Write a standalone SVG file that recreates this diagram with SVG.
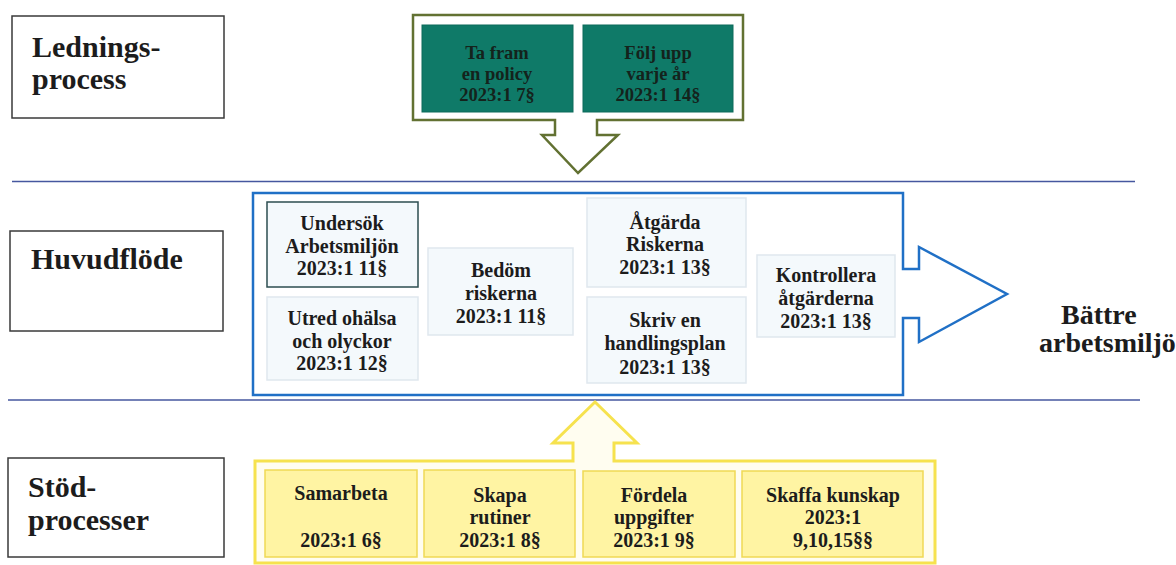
<svg xmlns="http://www.w3.org/2000/svg" width="1176" height="565" viewBox="0 0 1176 565" font-family="'Liberation Serif', 'Times New Roman', serif">
<style>
text{font-family:'Liberation Serif','Times New Roman',serif;font-weight:bold;fill:#1c1c1c}
.lbl{font-size:30px}
.t{font-size:20px;text-anchor:middle}
.tt{font-size:18.5px;text-anchor:middle;fill:#14231c}
.lane{fill:#fff;stroke:#3a3a3a;stroke-width:1.5}
.mb{fill:#f4f9fc;stroke:#dfe7ee;stroke-width:1.5}
.yb{fill:#fff4a3;stroke:#f0d955;stroke-width:1.5}
.gb{fill:#0f7a68;stroke:#0c6a5a;stroke-width:1}
.sep{stroke:#46579f;stroke-width:1.5;fill:none}
</style>
<g id="separators">
<line class="sep" x1="12" y1="181.5" x2="1135" y2="181.5"/>
<line class="sep" x1="8" y1="400" x2="1140" y2="400"/>
</g>
<g id="lane-ledning">
<rect class="lane" x="12" y="16" width="212" height="102"/>
<text class="lbl" font-family="Liberation Serif" x="32" y="57">Lednings-</text>
<text class="lbl" font-family="Liberation Serif" x="32" y="89">process</text>
</g>
<g id="lane-huvud">
<rect class="lane" x="10" y="231" width="213" height="100"/>
<text class="lbl" font-family="Liberation Serif" x="31" y="269">Huvudflöde</text>
</g>
<g id="lane-stod">
<rect class="lane" x="8" y="458" width="216" height="99"/>
<text class="lbl" font-family="Liberation Serif" x="28" y="497">Stöd-</text>
<text class="lbl" font-family="Liberation Serif" x="28" y="530">processer</text>
</g>
<g id="connectors">
<path id="arrow-ledning" d="M413,15 H743 V120 H597 V135 H618 L578,173 L542,135 H555 V120 H413 Z" fill="#fff" stroke="#627132" stroke-width="2.5"/>
<path id="arrow-huvud" d="M253,193 H903 V269 H919 V247 L1007,294 L919,342 V318 H903 V395 H253 Z" fill="#fff" stroke="#2070c6" stroke-width="2.5"/>
<path id="arrow-stod" d="M255,461 H573 V443 H553 L595,402 L637,443 H614 V461 H935 V563 H255 Z" fill="#fffdf0" stroke="#f6e24e" stroke-width="3"/>
</g>
<g id="n-policy" font-family="Liberation Serif">
<rect class="gb" x="422" y="25" width="151" height="87"/>
<text class="tt" x="497" y="59">Ta fram</text>
<text class="tt" x="497" y="80">en policy</text>
<text class="tt" x="497" y="101">2023:1 7§</text>
</g>
<g id="n-folj" font-family="Liberation Serif">
<rect class="gb" x="583" y="25" width="150" height="87"/>
<text class="tt" x="658" y="59">Följ upp</text>
<text class="tt" x="658" y="80">varje år</text>
<text class="tt" x="658" y="101">2023:1 14§</text>
</g>
<g id="n-undersok" font-family="Liberation Serif">
<rect x="267" y="202" width="151" height="85" fill="#f4f9fc" stroke="#2d4d50" stroke-width="1.5"/>
<text class="t" x="342" y="230">Undersök</text>
<text class="t" x="342" y="253">Arbetsmiljön</text>
<text class="t" x="342" y="275">2023:1 11§</text>
</g>
<g id="n-utred" font-family="Liberation Serif">
<rect class="mb" x="267" y="297" width="151" height="83"/>
<text class="t" x="342" y="325">Utred ohälsa</text>
<text class="t" x="342" y="348">och olyckor</text>
<text class="t" x="342" y="370">2023:1 12§</text>
</g>
<g id="n-bedom" font-family="Liberation Serif">
<rect class="mb" x="428" y="248" width="145" height="87"/>
<text class="t" x="501" y="277">Bedöm</text>
<text class="t" x="501" y="300">riskerna</text>
<text class="t" x="501" y="323">2023:1 11§</text>
</g>
<g id="n-atgarda" font-family="Liberation Serif">
<rect class="mb" x="587" y="198" width="159" height="89"/>
<text class="t" x="665" y="229">Åtgärda</text>
<text class="t" x="665" y="251">Riskerna</text>
<text class="t" x="665" y="274">2023:1 13§</text>
</g>
<g id="n-skriv" font-family="Liberation Serif">
<rect class="mb" x="587" y="297" width="159" height="86"/>
<text class="t" x="665" y="327">Skriv en</text>
<text class="t" x="665" y="350">handlingsplan</text>
<text class="t" x="665" y="374">2023:1 13§</text>
</g>
<g id="n-kontrollera" font-family="Liberation Serif">
<rect class="mb" x="757" y="255" width="138" height="82"/>
<text class="t" x="826" y="282">Kontrollera</text>
<text class="t" x="826" y="305">åtgärderna</text>
<text class="t" x="826" y="328">2023:1 13§</text>
</g>
<g id="n-battre" font-family="Liberation Serif">
<text style="font-size:28px" x="1061" y="324">Bättre</text>
<text style="font-size:28px" x="1039" y="352">arbetsmiljö</text>
</g>
<g id="n-samarbeta" font-family="Liberation Serif">
<rect class="yb" x="265" y="470" width="152" height="87"/>
<text class="t" x="341" y="500">Samarbeta</text>
<text class="t" x="341" y="547">2023:1 6§</text>
</g>
<g id="n-skapa" font-family="Liberation Serif">
<rect class="yb" x="424" y="470" width="151" height="87"/>
<text class="t" x="500" y="502">Skapa</text>
<text class="t" x="500" y="524">rutiner</text>
<text class="t" x="500" y="547">2023:1 8§</text>
</g>
<g id="n-fordela" font-family="Liberation Serif">
<rect class="yb" x="583" y="471" width="152" height="86"/>
<text class="t" x="654" y="502">Fördela</text>
<text class="t" x="654" y="524">uppgifter</text>
<text class="t" x="654" y="547">2023:1 9§</text>
</g>
<g id="n-skaffa" font-family="Liberation Serif">
<rect class="yb" x="742" y="471" width="181" height="86"/>
<text class="t" x="833" y="502">Skaffa kunskap</text>
<text class="t" x="833" y="524">2023:1</text>
<text class="t" x="833" y="547">9,10,15§§</text>
</g>
</svg>
